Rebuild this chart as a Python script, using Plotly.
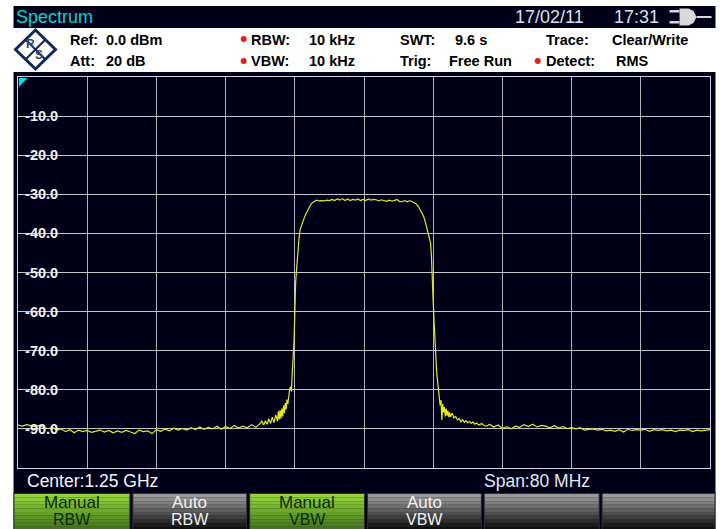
import plotly.graph_objects as go

# ---- Trace data (MHz, dBm) ----
freq_left = [1210,1210.5,1211,1211.5,1212,1212.5,1213,1213.5,1214,1214.5,1215,1215.5,1216,1216.5,1217,1217.5,1218,1218.5,1219,1219.5,
             1220,1220.5,1221,1221.5,1222,1222.5,1223,1223.5,1224,1224.5,1225,1225.5,1226,1226.5,1227,1227.5,1228,1228.5,1229,1229.5,
             1230,1230.5,1231,1231.5,1232,1232.5,1233,1233.5,1234,1234.5,1235,1235.5,1236,1236.5,1237,1237.5]
level_left = [-89.0,-89.3,-88.9,-89.2,-89.4,-89.1,-89.7,-89.9,-89.7,-90.3,-90.0,-90.7,-90.2,-91.0,-90.3,-90.7,-90.4,-90.9,-90.5,-90.3,
              -90.8,-90.4,-91.0,-90.5,-90.9,-90.4,-90.8,-91.2,-90.3,-90.7,-90.5,-91.2,-90.2,-90.6,-90.0,-90.5,-89.8,-90.3,-89.9,-90.3,
              -89.7,-90.2,-89.5,-90.1,-89.6,-90.0,-89.3,-90.1,-89.4,-89.9,-89.1,-89.8,-89.3,-89.7,-88.9,-89.6]
freq_rise = [1238,1238.2,1238.4,1238.6,1238.8,1239,1239.2,1239.4,1239.6,1239.8,1240,1240.1,1240.2,1240.3,1240.4,1240.5,1240.6,1240.7,1240.8,1240.9,
             1241,1241.1,1241.2,1241.3,1241.4,1241.5,1241.6,1241.7,1241.8,1241.9,1241.94,1242,1242.1,1242.2,1242.3,1242.4,1242.5,1242.6,1242.8,1243,
             1243.2,1243.4,1243.6,1243.8,1244,1244.2]
level_rise = [-88.6,-88.0,-89.0,-87.9,-88.8,-87.4,-88.6,-87.0,-88.4,-86.4,-88.0,-85.5,-87.6,-85.2,-87.4,-84.8,-86.8,-84.0,-86.0,-83.4,
              -85.0,-82.5,-83.6,-81.0,-80.0,-79.2,-80.4,-76.0,-72.8,-68.0,-65.5,-56.2,-52.5,-49.4,-46.0,-43.4,-41.0,-39.1,-37.6,-36.6,
              -35.4,-34.4,-33.5,-32.8,-32.2,-31.9]
freq_top = [1244.5,1244.8,1245.1,1245.4,1245.7,1246,1246.3,1246.6,1246.9,1247.2,1247.5,1247.8,1248.1,1248.4,1248.7,1249,1249.3,1249.6,1249.9,1250.2,
            1250.5,1250.8,1251.1,1251.4,1251.7,1252,1252.3,1252.6,1252.9,1253.2,1253.5,1253.8,1254.1,1254.4,1254.7,1255,1255.3,1255.7]
level_top = [-31.5,-31.7,-31.6,-31.7,-31.5,-31.6,-31.3,-31.6,-31.2,-31.5,-31.1,-31.6,-31.2,-31.6,-31.3,-31.5,-31.2,-31.6,-31.3,-31.6,
             -31.2,-31.5,-31.3,-31.4,-31.7,-31.4,-31.6,-31.8,-31.5,-31.7,-31.6,-31.3,-31.8,-31.9,-31.6,-31.9,-31.6,-32.0]
freq_fall = [1256,1256.3,1256.6,1256.9,1257.1,1257.3,1257.5,1257.7,1257.8,1257.9,1258,1258.1,1258.2,1258.3,1258.4,1258.5,1258.6,1258.7,1258.8,1258.9,
             1259,1259.1,1259.2,1259.3,1259.4,1259.5,1259.6,1259.7,1259.8,1259.9,1260,1260.2,1260.4,1260.6,1260.8,1261,1261.2,1261.4,1261.6,1261.8,
             1262,1262.2,1262.4,1262.6,1262.8,1263,1263.3,1263.6,1263.9]
level_fall = [-32.4,-33.2,-34.4,-35.7,-37.2,-39.1,-40.8,-42.5,-46.0,-50.1,-57.5,-62.5,-68.1,-72.0,-75.4,-77.6,-80.0,-81.5,-84.0,-82.6,
              -87.7,-83.6,-85.8,-84.4,-86.8,-84.8,-86.6,-85.4,-87.0,-85.8,-86.9,-86.0,-87.2,-86.8,-87.7,-87.4,-88.2,-87.6,-88.3,-87.9,
              -88.4,-88.1,-88.6,-88.2,-88.8,-88.5,-89.0,-88.6,-89.2]
freq_right = [1264.2,1264.5,1265,1265.5,1266,1266.5,1267,1267.5,1268,1268.5,1269,1269.5,1270,1270.5,1271,1271.5,1272,1272.5,1273,1273.5,1274,
              1274.5,1275,1275.5,1276,1276.5,1277,1277.5,1278,1278.5,1279,1279.5,1280,1280.5,1281,1281.5,1282,1282.5,1283,1283.5,1284,
              1284.5,1285,1285.5,1286,1286.5,1287,1287.5,1288,1288.5,1289,1289.5,1290]
level_right = [-89.3,-88.8,-89.5,-89.0,-89.9,-89.4,-90.0,-89.3,-89.6,-88.9,-89.4,-88.8,-89.5,-89.1,-89.3,-89.7,-89.2,-89.8,-89.4,-89.9,-89.7,
               -90.0,-89.7,-90.3,-90.1,-90.0,-90.3,-90.1,-90.5,-90.3,-90.6,-90.2,-90.8,-90.1,-90.4,-90.2,-90.3,-90.1,-90.6,-90.2,-90.4,
               -90.2,-90.5,-90.3,-90.7,-90.3,-90.4,-90.2,-90.7,-90.3,-90.5,-90.3,-90.2]

freq_mhz = freq_left + freq_rise + freq_top + freq_fall + freq_right
level_dbm = level_left + level_rise + level_top + level_fall + level_right

y_ticks = [-10,-20,-30,-40,-50,-60,-70,-80,-90]
y_labels = ["-10.0","-20.0","-30.0","-40.0","-50.0","-60.0","-70.0","-80.0","-90.0"]
x_ticks = [1218,1226,1234,1242,1250,1258,1266,1274,1282]

W, H = 720, 529
L, R, T, B = 17.5, 710.5, 77, 468
def px(x): return (x - L) / (R - L)
def py(y): return 1 - (y - T) / (B - T)

NAVY = "#000018"
FONT = "Liberation Sans Narrow, Liberation Sans, Arial"
shapes = []
def rect(x0, y0, x1, y1, color, layer="below"):
    shapes.append(dict(type="rect", xref="paper", yref="paper", x0=px(x0), x1=px(x1), y0=py(y0), y1=py(y1),
                       fillcolor=color, line_width=0, layer=layer))

rect(13, 6, 716, 28, NAVY)
rect(13, 72, 716, 529, NAVY)

# soft buttons
green = ["#96d23c","#8aca36","#7fc032","#76b52e","#6cab2a","#63a027","#5b9524","#538a21","#4c801e","#46771c"]
grey = ["#9a9a9a","#8c8c8c","#7e7e7e","#6e6e6e","#5e5e5e","#4e4e4e","#3c3c3c","#2c2c2c","#1c1c1c","#101010"]
buttons = [(13,130,green,"Manual"),(132,247,grey,"Auto"),(249,365,green,"Manual"),(367,482,grey,"Auto"),(484,600,grey,""),(602,716,grey,"")]
btn_bottom = ["RBW","RBW","VBW","VBW","",""]
annots = []
def text(x, y, s, size=13, color="black", anchor="left", bold=True, family=FONT):
    annots.append(dict(xref="paper", yref="paper", x=px(x - (2 if anchor == "left" else 0)), y=py(y),
                       text=f"<b>{s}</b>" if bold else s,
                       showarrow=False, xanchor=anchor, yanchor="middle",
                       font=dict(size=size, color=color, family=family)))

for (x0, x1, cols, top), low in zip(buttons, btn_bottom):
    rect(x0, 493, x1, 529, "#303030")
    for i, c in enumerate(cols):
        rect(x0 + 1, 494 + i * 3.6, x1 - 1, 494 + (i + 1) * 3.6, c)
    tc = "#0a2a00" if cols is green else "#f0f0f0"
    if top:
        text((x0 + x1) / 2, 502, top, 17, tc, "center", False)
        text((x0 + x1) / 2, 519.5, low, 16, tc, "center", False)

# header text
text(15, 17, "Spectrum", 18, "#00d8d8", bold=False)
text(515, 17, "17/02/11", 18, "#d8e0ec", bold=False)
text(614, 17, "17:31", 18, "#d8e0ec", bold=False)
for s, x, y in [("Ref:",70,40),("0.0 dBm",106,40),("Att:",70,61),("20 dB",106,61),
                ("RBW:",251,40),("10 kHz",309,40),("VBW:",251,61),("10 kHz",309,61),
                ("SWT:",400,40),("9.6 s",455,40),("Trig:",400,61),("Free Run",449,61),
                ("Trace:",546,40),("Clear/Write",612,40),("Detect:",546,61),("RMS",616,61)]:
    text(x, y, s, 14.5)
for x, y in [(243.5,39),(243.5,61),(538,61)]:
    shapes.append(dict(type="circle", xref="paper", yref="paper", x0=px(x-3), x1=px(x+3), y0=py(y-3), y1=py(y+3),
                       fillcolor="#e02020", line_width=0, layer="below"))

# bottom labels
text(27, 481, "Center:1.25 GHz", 17.5, "#f4f4f8", bold=False)
text(484, 481, "Span:80 MHz", 17.5, "#e4e8f4", bold=False)

# R&S logo
def poly(pts, fill=None, line=None, width=0):
    path = "M " + " L ".join(f"{px(a):.5f},{py(b):.5f}" for a, b in pts) + " Z"
    shapes.append(dict(type="path", xref="paper", yref="paper", path=path, fillcolor=fill or "rgba(0,0,0,0)",
                       line=dict(color=line or "rgba(0,0,0,0)", width=width), layer="below"))
poly([(35,30),(55,49.5),(35,69),(15,49.5)], None, "#10285a", 3)
shapes.append(dict(type="line", xref="paper", yref="paper", x0=px(25), y0=py(39.5), x1=px(45), y1=py(59.5),
                   line=dict(color="#10285a", width=2), layer="below"))
shapes.append(dict(type="line", xref="paper", yref="paper", x0=px(25), y0=py(59.5), x1=px(45), y1=py(39.5),
                   line=dict(color="#10285a", width=2), layer="below"))
text(30, 44, "R", 12, "#304878", "center", True, "Liberation Sans")
text(39, 55, "S", 12, "#304878", "center", True, "Liberation Sans")

# power-plug icon in the header
poly([(670,10),(680,10),(680,12.5),(670,12.5)], "#d8d8d8")
poly([(670,21),(680,21),(680,23.5),(670,23.5)], "#d8d8d8")
poly([(680,8.5),(689,8.5),(694,11),(697,17),(694,23),(689,25.5),(680,25.5)], "#d8d8d8")
poly([(697,16),(712,16),(712,18),(697,18)], "#d8d8d8")

# label masks over the grid, below the trace
for v in y_ticks:
    shapes.append(dict(type="rect", xref="paper", yref="y", x0=px(19), x1=px(61), y0=v-2.2, y1=v+2.2,
                       fillcolor=NAVY, line_width=0, layer="between"))
# reference marker
poly([(18.5,78),(27,78),(18.5,87)], "#00e0f0")

fig = go.Figure(go.Scatter(x=freq_mhz, y=level_dbm, mode="lines", hoverinfo="skip",
                           line=dict(color="#e8e820", width=1.2)))
fig.update_layout(
    width=W, height=H, showlegend=False, paper_bgcolor="white", plot_bgcolor=NAVY,
    margin=dict(l=L, r=W-R, t=T, b=H-B, pad=0, autoexpand=False),
    shapes=shapes, annotations=annots,
    xaxis=dict(range=[1210,1290], tickvals=x_ticks, showticklabels=False, ticks="", showgrid=True,
               gridcolor="#b4b4bc", gridwidth=1, zeroline=False, showline=True, linecolor="#d0d0d8",
               linewidth=1, mirror=True),
    yaxis=dict(range=[-100,0], tickvals=y_ticks, ticktext=y_labels, ticks="", showgrid=True,
               gridcolor="#c4c4cc", gridwidth=1, zeroline=False, showline=True, linecolor="#d0d0d8",
               linewidth=1, mirror=True, ticklabelposition="inside", ticklabelstandoff=7,
               tickfont=dict(size=14.5, color="#f0f0f0", family="Liberation Sans Narrow, Liberation Sans, Arial", weight="bold")),
)
fig.write_html("out.html", config={"displayModeBar": False},
               post_script="document.body.style.margin='0';document.body.style.overflow='hidden';")
